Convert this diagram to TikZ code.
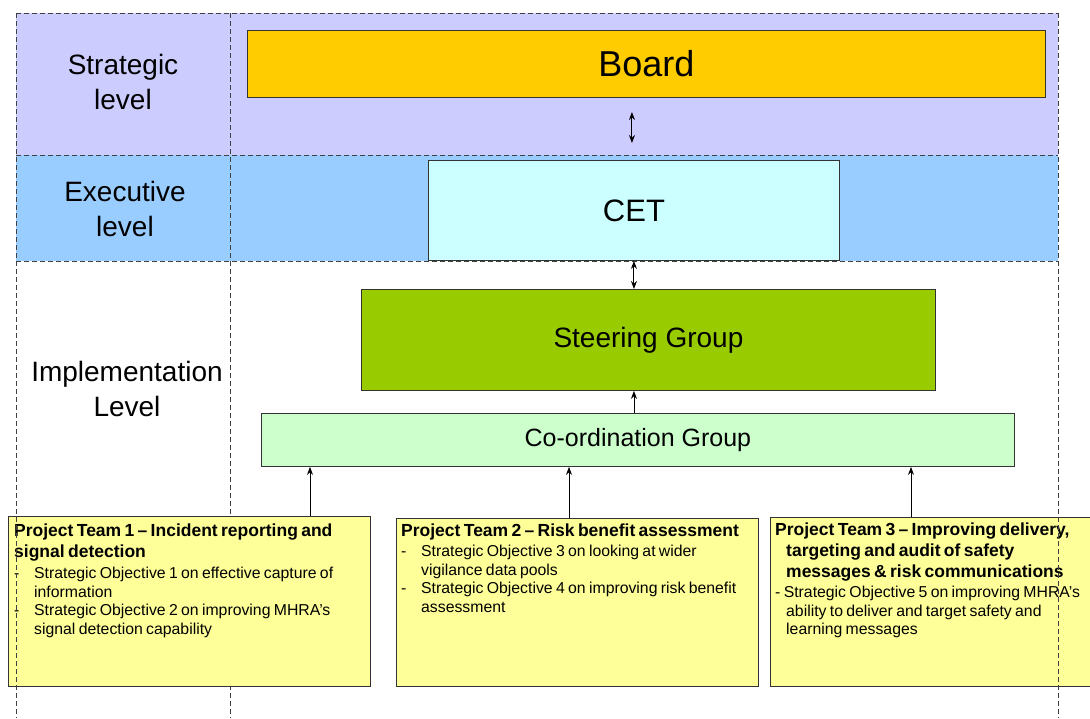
\documentclass[tikz,border=0pt]{standalone}
\usepackage{fontspec}
\setmainfont{Liberation Sans}
\usetikzlibrary{arrows.meta,calc}
\definecolor{stratc}{HTML}{CCCCFF}
\definecolor{execc}{HTML}{99CCFF}
\definecolor{boardc}{HTML}{FFCC00}
\definecolor{cetc}{HTML}{CCFFFF}
\definecolor{steerc}{HTML}{99CC00}
\definecolor{coordc}{HTML}{CCFFCC}
\definecolor{ptc}{HTML}{FFFF99}
\newcommand{\objline}[1]{\par\hangindent=20pt\hangafter=1\noindent\makebox[20pt][l]{-}#1\par}
\begin{document}
\begin{tikzpicture}[x=1pt,y=-1pt,
  box/.style={draw=black!80, line width=0.9pt, inner sep=0pt, anchor=north west},
  dline/.style={dash pattern=on 5pt off 3pt, line width=0.8pt, black!75},
  lvl/.style={align=center, font=\fontsize{28}{35}\selectfont},
  pttext/.style={anchor=north west, inner sep=0pt, text width=#1, align=left},
  arr/.style={-{Stealth[length=8pt,width=6pt]}, line width=0.9pt},
  darr/.style={{Stealth[length=8pt,width=6pt]}-{Stealth[length=8pt,width=6pt]}, line width=1pt}]
\useasboundingbox (0,0) rectangle (1090,718);
\fill[white] (0,0) rectangle (1090,718);
% bands
\fill[stratc] (16,13) rectangle (1058,155);
\fill[execc] (16,155) rectangle (1058,261);
\draw[dline] (230,13) -- (230,718);
\draw[dline] (16,13) -- (1058,13);
\draw[dline] (16,155) -- (1058,155);
\draw[dline] (16,261) -- (1058,261);
% level labels
\node[lvl] (lstrat) at (123,82) {Strategic\\level};
\node[lvl] (lexec) at (125,209) {Executive\\level};
\node[lvl] (limpl) at (127,389) {Implementation\\Level};
% main boxes
\node[box, fill=boardc, minimum width=798, minimum height=67, font=\fontsize{36}{40}\selectfont] (board) at (247,30) {Board};
\node[box, fill=cetc, minimum width=411, minimum height=100, font=\fontsize{31}{34}\selectfont] (cet) at (428,160) {CET};
\node[box, fill=steerc, minimum width=574, minimum height=101, font=\fontsize{28}{32}\selectfont] (steer) at (361,289) {Steering Group};
\node[box, fill=coordc, minimum width=753, minimum height=53, font=\fontsize{25}{28}\selectfont] (coord) at (261,413) {Co-ordination Group};
% project team boxes
\node[box, fill=ptc, minimum width=362, minimum height=170] (pt1) at (8,516) {};
\node[box, fill=ptc, minimum width=362, minimum height=168] (pt2) at (396,518) {};
\node[box, fill=ptc, minimum width=322, minimum height=169] (pt3) at (770,517) {};
\node[pttext=420] (pt1t) at ($(pt1.north west)+(6,8)$) {%
  {\fontsize{17.5}{21}\selectfont\bfseries Project Team 1 -- Incident reporting and\newline signal detection\par}
  \vspace{2pt}\fontsize{15.8}{18.6}\selectfont
  \objline{Strategic Objective 1 on effective capture of\newline information}
  \objline{Strategic Objective 2 on improving MHRA's\newline signal detection capability}};
\node[pttext=420] (pt2t) at ($(pt2.north west)+(5,6)$) {%
  {\fontsize{17.5}{21}\selectfont\bfseries Project Team 2 -- Risk benefit assessment\par}
  \vspace{1pt}\fontsize{15.8}{18.6}\selectfont
  \objline{Strategic Objective 3 on looking at wider\newline vigilance data pools}
  \objline{Strategic Objective 4 on improving risk benefit\newline assessment}};
\node[pttext=420] (pt3t) at ($(pt3.north west)+(5,6)$) {%
  {\fontsize{17.5}{21}\selectfont\bfseries\hangindent=11pt\hangafter=1\noindent Project Team 3 -- Improving delivery,\newline targeting and audit of safety\newline messages \& risk communications\par}
  \vspace{1pt}\fontsize{15.8}{18.6}\selectfont
  \hangindent=11pt\hangafter=1\noindent - Strategic Objective 5 on improving MHRA's\newline ability to deliver and target safety and\newline learning messages\par};
% outer dashed verticals (on top)
\draw[dline] (16,13) -- (16,718);
\draw[dline] (1058,13) -- (1058,718);
% connectors
\draw[darr] ($(cet.north)+(-2,-48)$) coordinate (bt) -- ($(cet.north)+(-2,-17)$) coordinate (cb);
\draw[darr] (cet.south) -- (cet.south |- steer.north);
\draw[arr] (cet.south |- coord.north) -- (cet.south |- steer.south);
\coordinate (p1) at ($(pt1.north west)+(302,0)$);
\coordinate (p2) at ($(pt2.north west)+(173,0)$);
\coordinate (p3) at ($(pt3.north west)+(141,0)$);
\draw[arr] (p1) -- (p1 |- coord.south);
\draw[arr] (p2) -- (p2 |- coord.south);
\draw[arr] (p3) -- (p3 |- coord.south);
\end{tikzpicture}
\end{document}
